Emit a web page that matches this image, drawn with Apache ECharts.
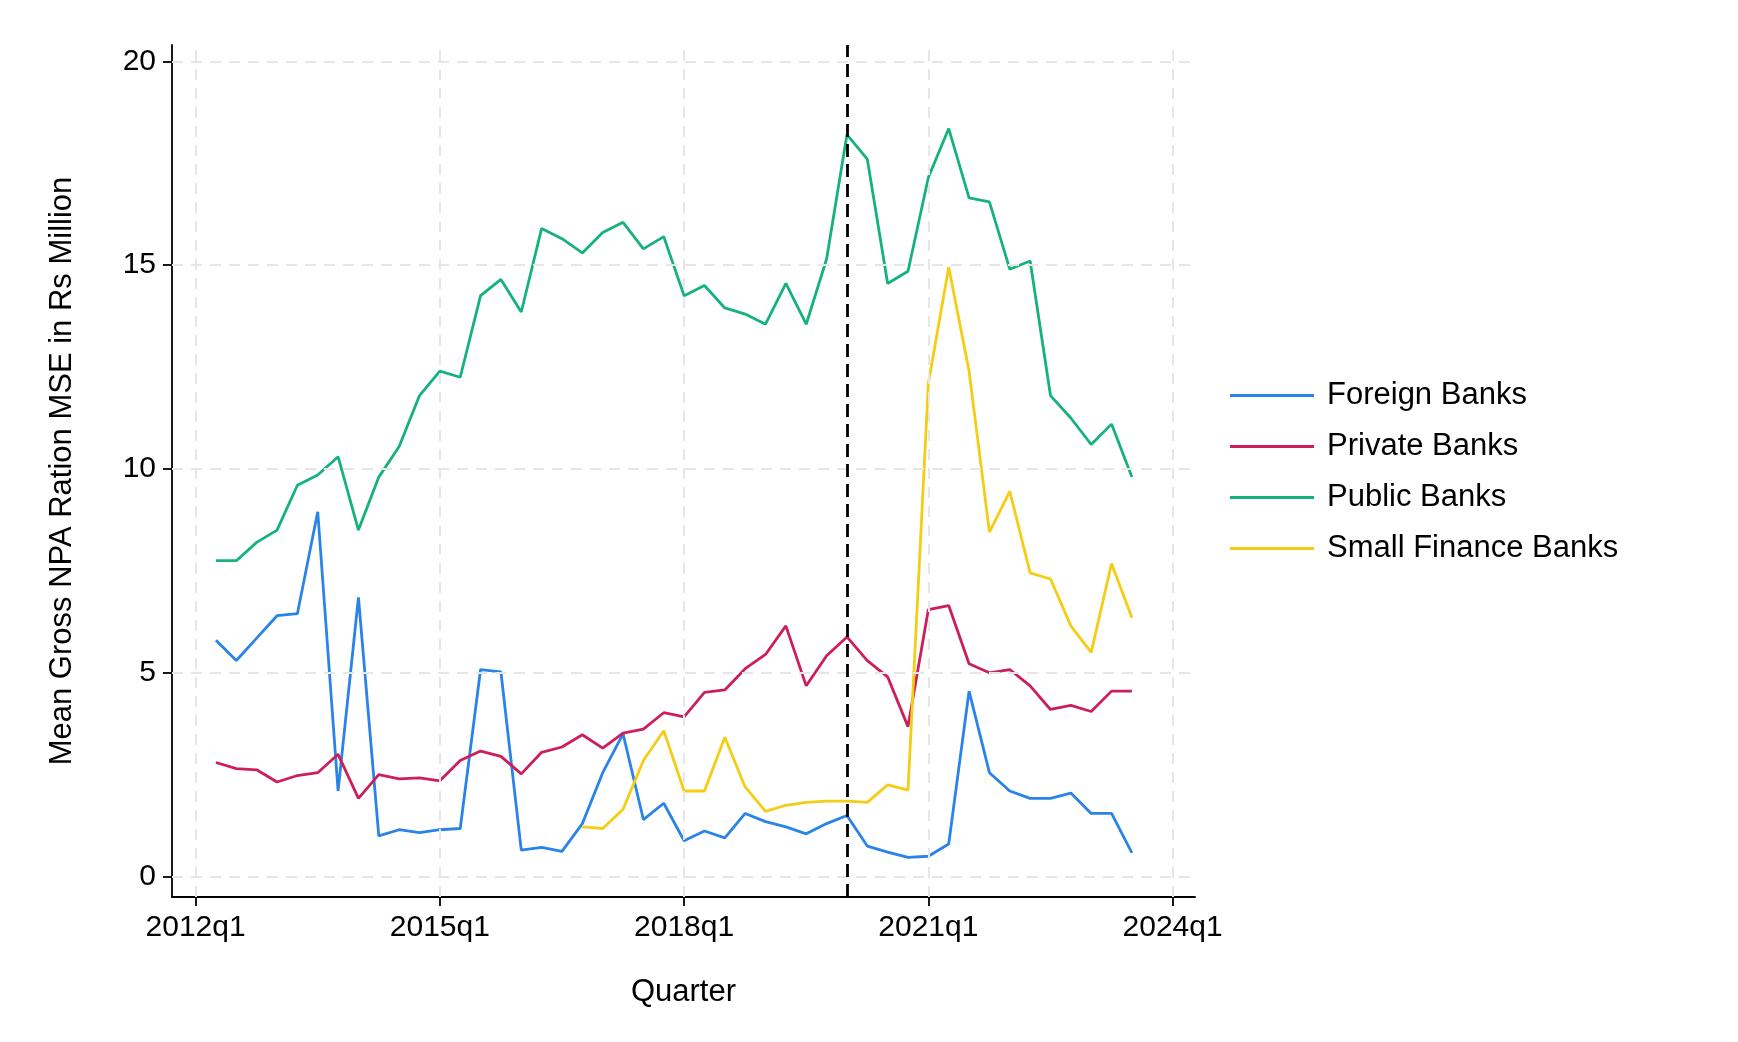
<!DOCTYPE html>
<html lang="en">
<head>
<meta charset="UTF-8">
<title>Mean Gross NPA Ration MSE</title>
<script src="https://cdn.jsdelivr.net/npm/echarts@6/dist/echarts.min.js"></script>
<style>
  html, body { margin: 0; padding: 0; background: #fff; }
  #chart { width: 1738px; height: 1042px; }
</style>
</head>
<body>
<div id="chart"></div>
<script>
// quarter index 0 = 2012q1
const startIndex = 1;
const tickQuarters = [0, 12, 24, 36, 48];
const tickLabels = ['2012q1', '2015q1', '2018q1', '2021q1', '2024q1'];
const yTicks = [0, 5, 10, 15, 20];
const cutoffQuarter = 32;

const foreign = [5.8, 5.3, 5.85, 6.4, 6.45, 8.95, 2.1, 6.85, 1.0, 1.15, 1.08, 1.15, 1.18, 5.08, 5.02,
  0.65, 0.72, 0.62, 1.3, 2.55, 3.5, 1.4, 1.8, 0.88, 1.12, 0.95, 1.55, 1.35, 1.22, 1.05, 1.3, 1.5,
  0.75, 0.6, 0.47, 0.5, 0.8, 4.55, 2.55, 2.1, 1.92, 1.92, 2.05, 1.55, 1.55, 0.58];
const privateB = [2.8, 2.65, 2.62, 2.32, 2.48, 2.55, 3.0, 1.92, 2.5, 2.4, 2.42, 2.35, 2.85, 3.08, 2.95,
  2.52, 3.05, 3.18, 3.48, 3.15, 3.52, 3.62, 4.02, 3.92, 4.52, 4.58, 5.1, 5.45, 6.15, 4.68, 5.42, 5.88,
  5.3, 4.9, 3.68, 6.55, 6.65, 5.22, 5.0, 5.08, 4.68, 4.1, 4.2, 4.05, 4.55, 4.55];
const publicB = [7.75, 7.75, 8.2, 8.5, 9.6, 9.85, 10.3, 8.5, 9.8, 10.55, 11.8, 12.4, 12.25, 14.25, 14.65,
  13.85, 15.9, 15.65, 15.3, 15.8, 16.05, 15.4, 15.7, 14.25, 14.5, 13.95, 13.8, 13.55, 14.55, 13.55, 15.15, 18.2,
  17.6, 14.55, 14.85, 17.15, 18.35, 16.65, 16.55, 14.9, 15.1, 11.8, 11.25, 10.6, 11.1, 9.8];
// small finance banks start at quarter 19
const smallStart = 19;
const smallFin = [1.22, 1.18, 1.65, 2.85, 3.58, 2.1, 2.1, 3.42, 2.2, 1.6, 1.75, 1.82, 1.85, 1.85,
  1.82, 2.25, 2.12, 12.1, 14.95, 12.4, 8.45, 9.45, 7.45, 7.3, 6.15, 5.5, 7.68, 6.35];

const toPts = (arr, s) => arr.map((v, i) => [s + i, v]);
const font = 'Helvetica, "Liberation Sans", Arial, sans-serif';

const gridStyle = { type: [11, 8], color: '#e6e6e6', width: 2 };
const gridLines = [];
tickQuarters.forEach(q => gridLines.push({ xAxis: q }));
yTicks.forEach(v => gridLines.push({ yAxis: v }));

function lineSeries(name, data, color) {
  return {
    name, type: 'line', data, symbol: 'none', smooth: false,
    lineStyle: { color, width: 2.8 }, itemStyle: { color }
  };
}

const chart = echarts.init(document.getElementById('chart'));
chart.setOption({
  animation: false,
  backgroundColor: '#fff',
  textStyle: { fontFamily: font },
  grid: { left: 172, right: 1738 - 1195, top: 45, bottom: 1042 - 897 },
  legend: {
    orient: 'vertical', left: 1225, top: 375, itemGap: 20,
    icon: 'rect', itemWidth: 84, itemHeight: 3,
    textStyle: { fontSize: 31, color: '#000', fontFamily: font, padding: [0, 0, 0, 8] },
    data: ['Foreign Banks', 'Private Banks', 'Public Banks', 'Small Finance Banks']
  },
  xAxis: {
    type: 'value', min: -1.16, max: 49.1,
    name: 'Quarter', nameLocation: 'middle', nameGap: 80,
    nameTextStyle: { fontSize: 31, color: '#000' },
    axisLine: { onZero: false, lineStyle: { color: '#000', width: 1.8 } },
    axisTick: { customValues: tickQuarters, length: 9, lineStyle: { color: '#000', width: 1.8 } },
    axisLabel: {
      customValues: tickQuarters, fontSize: 30, color: '#000', margin: 16,
      formatter: v => tickLabels[tickQuarters.indexOf(v)] || ''
    },
    splitLine: { show: false }
  },
  yAxis: {
    type: 'value', min: -0.5, max: 20.4,
    name: 'Mean Gross NPA Ration MSE in Rs Million', nameLocation: 'middle', nameGap: 94,
    nameTextStyle: { fontSize: 31, color: '#000' },
    axisLine: { show: true, onZero: false, lineStyle: { color: '#000', width: 1.8 } },
    axisTick: { show: true, customValues: yTicks, length: 9, lineStyle: { color: '#000', width: 1.8 } },
    axisLabel: { customValues: yTicks, fontSize: 30, color: '#000', margin: 16 },
    splitLine: { show: false }
  },
  series: [
    {
      name: 'grid', type: 'line', data: [], silent: true,
      markLine: { symbol: 'none', silent: true, label: { show: false }, lineStyle: gridStyle, data: gridLines }
    },
    lineSeries('Foreign Banks', toPts(foreign, startIndex), '#2a83e8'),
    lineSeries('Private Banks', toPts(privateB, startIndex), '#cc1f5a'),
    lineSeries('Public Banks', toPts(publicB, startIndex), '#15b37a'),
    lineSeries('Small Finance Banks', toPts(smallFin, smallStart), '#f5cd14'),
    {
      name: 'cutoff', type: 'line', data: [], silent: true,
      markLine: {
        symbol: 'none', silent: true, label: { show: false },
        lineStyle: { type: [13, 7], color: '#000', width: 2.8 },
        data: [{ xAxis: cutoffQuarter }]
      }
    }
  ]
});
</script>
</body>
</html>
